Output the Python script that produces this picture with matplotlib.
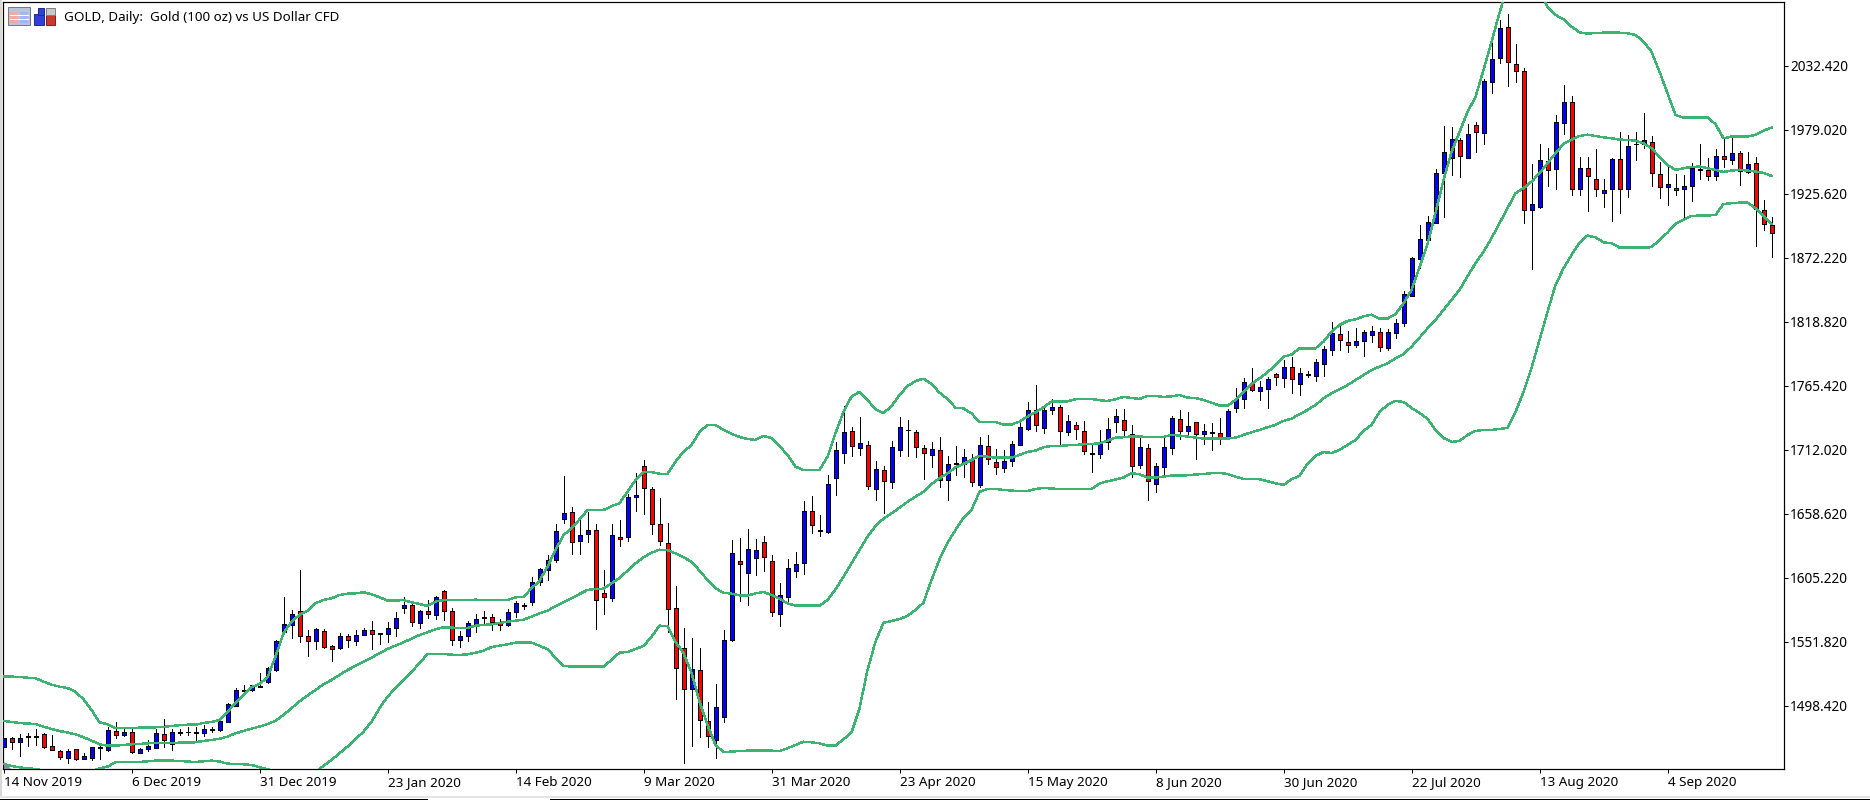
import matplotlib
matplotlib.use("Agg")
import matplotlib.pyplot as plt
from matplotlib.patches import Rectangle, Polygon
from matplotlib.lines import Line2D

W, H = 1870, 800

opens = [
1463.6,1471.1,1467.8,1472.2,1472.6,1474.7,1464.4,1460.3,1455.0,1462.0,
1454.2,1455.0,1462.8,1461.7,1477.0,1474.2,1476.1,1459.2,1462.0,1463.3,
1474.5,1466.7,1475.6,1476.1,1475.6,1475.3,1478.1,1478.1,1485.0,1498.4,
1510.9,1511.2,1514.2,1518.4,1528.4,1559.6,1565.7,1577.1,1556.2,1552.1,
1560.4,1547.9,1546.2,1556.2,1552.1,1557.6,1561.2,1558.5,1558.5,1562.9,
1579.6,1582.1,1567.1,1577.1,1573.7,1593.8,1577.1,1552.9,1556.2,1566.8,
1571.5,1572.0,1567.0,1565.7,1576.2,1581.5,1584.6,1601.8,1611.8,1620.2,
1654.4,1659.7,1635.5,1641.3,1644.6,1592.1,1587.9,1638.8,1638.8,1672.2,
1698.0,1678.8,1649.6,1633.8,1579.6,1546.2,1512.0,1527.8,1485.3,1469.4,
1488.6,1553.4,1618.8,1608.8,1621.3,1634.6,1618.8,1574.6,1588.7,1610.4,
1617.1,1660.5,1644.4,1643.0,1688.0,1708.9,1727.2,1713.6,1715.6,1678.8,
1694.7,1684.7,1711.4,1728.1,1726.4,1713.0,1707.2,1711.4,1686.3,1700.0,
1699.7,1703.9,1682.2,1714.7,1701.4,1696.4,1702.2,1715.6,1728.9,1744.8,
1729.8,1744.8,1747.3,1726.5,1732.3,1727.3,1708.4,1708.7,1718.1,1734.8,
1736.5,1724.8,1698.9,1713.1,1683.1,1697.3,1713.1,1737.3,1727.3,1734.8,
1724.8,1725.9,1725.6,1721.5,1746.5,1754.0,1767.4,1760.7,1762.4,1774.9,
1771.5,1780.7,1767.0,1774.5,1773.2,1783.2,1794.8,1808.2,1801.5,1799.0,
1802.4,1807.4,1809.9,1797.1,1809.0,1817.4,1839.9,1870.8,1886.7,1901.4,
1942.6,1955.1,1970.1,1955.1,1982.6,1976.0,2018.5,2038.5,2064.4,2033.5,
2027.7,1911.7,1914.2,1952.6,1945.9,1984.3,2001.8,1929.2,1946.8,1937.6,
1925.9,1929.2,1954.3,1929.2,1966.8,1966.8,1968.4,1941.8,1930.9,1930.1,
1929.2,1931.7,1945.6,1945.1,1940.1,1956.8,1953.4,1959.3,1943.4,1950.9,
1912.3,1899.2]

highs = [
1471.1,1472.5,1474.5,1475.9,1478.6,1475.9,1473.6,1461.4,1462.5,1462.5,
1458.6,1464.2,1464.7,1480.9,1484.8,1480.6,1478.6,1462.8,1469.5,1478.9,
1487.0,1478.9,1479.2,1480.3,1480.6,1482.0,1480.9,1487.8,1500.3,1512.8,
1515.3,1515.9,1525.4,1530.9,1553.2,1589.0,1578.2,1611.6,1561.5,1563.5,
1562.1,1548.7,1558.7,1557.9,1561.5,1562.9,1569.0,1559.3,1567.9,1576.2,
1589.3,1582.9,1577.9,1586.3,1590.2,1594.6,1579.6,1560.4,1569.0,1574.8,
1577.3,1574.8,1570.4,1579.3,1585.4,1583.7,1605.7,1612.9,1623.8,1649.9,
1690.0,1664.1,1655.5,1659.9,1649.9,1611.5,1649.9,1653.3,1675.0,1692.5,
1703.3,1680.8,1671.3,1650.5,1598.2,1562.9,1554.5,1546.2,1501.4,1516.4,
1561.5,1636.6,1638.0,1645.5,1637.4,1639.6,1623.8,1600.4,1620.4,1626.3,
1668.8,1673.0,1657.4,1690.5,1718.3,1748.4,1730.8,1739.2,1719.2,1702.5,
1698.3,1719.2,1739.2,1736.7,1728.1,1715.8,1718.3,1722.5,1706.6,1715.0,
1712.5,1708.3,1722.5,1724.2,1712.5,1711.7,1719.2,1735.3,1751.4,1765.9,
1748.4,1754.0,1749.3,1741.0,1734.8,1735.7,1715.9,1728.1,1738.2,1745.9,
1745.9,1732.3,1722.3,1716.5,1700.6,1722.3,1739.8,1745.1,1743.2,1734.8,
1733.2,1734.0,1738.2,1745.7,1763.2,1771.5,1780.2,1769.0,1772.4,1776.0,
1786.6,1789.3,1779.8,1777.3,1787.3,1798.2,1818.2,1816.5,1810.7,1813.2,
1811.5,1814.9,1813.2,1812.4,1820.7,1844.1,1872.4,1899.5,1907.0,1945.9,
1982.1,1981.2,1971.8,1983.5,1985.4,2021.0,2056.1,2070.2,2075.5,2050.5,
2030.2,1950.4,1967.1,1963.4,1991.3,2016.3,2006.8,1956.2,1955.9,1962.9,
1937.6,1955.1,1977.1,1974.6,1977.1,1992.9,1973.7,1952.0,1948.7,1942.0,
1940.9,1950.9,1967.1,1955.4,1962.9,1971.8,1974.3,1960.9,1960.4,1956.2,
1920.1,1906.2]

lows = [
1463.6,1462.2,1456.7,1465.0,1465.8,1462.8,1461.7,1454.2,1450.3,1452.8,
1454.2,1453.3,1453.9,1460.3,1471.7,1472.8,1458.6,1458.6,1460.3,1462.8,
1464.2,1461.7,1473.6,1474.2,1469.7,1473.4,1476.1,1477.5,1484.5,1497.8,
1507.6,1510.9,1514.2,1517.0,1527.6,1559.0,1555.1,1551.8,1540.1,1546.0,
1546.2,1535.9,1545.9,1547.6,1549.3,1557.1,1545.9,1550.1,1551.5,1556.8,
1576.0,1565.1,1563.5,1571.8,1570.4,1569.9,1549.3,1547.6,1552.6,1559.8,
1567.6,1561.5,1561.5,1565.1,1572.6,1578.7,1582.6,1599.0,1603.5,1618.2,
1651.0,1624.9,1624.9,1635.2,1562.3,1574.8,1586.0,1631.6,1635.5,1660.8,
1658.0,1641.3,1632.4,1560.1,1504.2,1450.8,1465.0,1472.5,1464.2,1455.0,
1484.7,1552.3,1585.7,1582.6,1607.6,1611.0,1573.4,1565.1,1583.2,1606.0,
1608.2,1642.7,1640.2,1642.7,1674.4,1701.1,1706.9,1707.8,1679.4,1670.2,
1659.4,1679.7,1706.9,1706.9,1706.1,1687.7,1697.8,1681.1,1670.2,1690.8,
1689.4,1681.9,1680.5,1700.0,1691.9,1693.6,1698.3,1715.6,1728.3,1727.8,
1726.2,1742.1,1716.8,1724.5,1720.9,1708.7,1693.7,1705.3,1712.6,1726.8,
1722.9,1689.5,1697.0,1670.3,1677.0,1692.0,1708.7,1721.2,1724.3,1704.2,
1716.8,1712.0,1717.0,1721.5,1743.2,1747.1,1760.7,1753.5,1747.1,1766.2,
1764.6,1759.6,1757.9,1772.3,1769.5,1773.7,1791.2,1795.4,1793.7,1797.9,
1790.4,1802.1,1794.3,1795.4,1805.4,1815.4,1839.9,1863.9,1885.6,1900.9,
1906.4,1941.5,1939.8,1955.1,1960.7,1967.3,2009.9,2034.9,2015.7,2019.1,
1901.4,1863.0,1913.4,1932.3,1929.8,1975.4,1924.8,1924.2,1911.4,1923.9,
1914.8,1903.1,1909.8,1923.1,1953.7,1963.4,1932.3,1922.3,1916.4,1924.8,
1906.4,1919.8,1937.6,1937.3,1937.3,1947.9,1950.1,1933.1,1943.1,1882.2,
1895.0,1873.1]

closes = [
1471.1,1468.1,1471.1,1472.8,1473.2,1464.2,1461.7,1455.3,1460.8,1454.2,
1456.1,1463.6,1463.6,1477.8,1474.2,1476.1,1460.0,1462.0,1464.4,1475.3,
1470.0,1476.1,1476.1,1476.7,1476.1,1478.6,1478.6,1485.3,1499.8,1511.2,
1511.5,1515.3,1515.1,1529.5,1552.1,1566.2,1574.6,1556.2,1552.1,1562.1,
1547.6,1545.9,1556.2,1552.9,1557.1,1561.2,1557.9,1559.0,1562.9,1571.2,
1582.1,1567.9,1577.1,1574.6,1588.8,1577.1,1552.9,1556.2,1567.1,1570.4,
1572.0,1567.9,1565.4,1576.2,1583.7,1582.1,1601.3,1612.1,1619.6,1643.8,
1658.8,1634.6,1640.5,1644.6,1586.2,1589.3,1640.5,1637.1,1672.2,1673.8,
1679.7,1649.6,1635.5,1578.7,1530.1,1512.0,1528.7,1486.1,1472.8,1497.0,
1552.9,1625.4,1616.3,1628.8,1628.0,1622.1,1576.2,1590.4,1612.9,1616.3,
1660.5,1648.8,1644.9,1683.0,1711.4,1726.4,1714.7,1717.2,1681.3,1695.5,
1685.5,1713.9,1730.6,1728.6,1713.9,1708.9,1712.2,1686.3,1699.7,1700.5,
1705.5,1684.7,1715.6,1703.9,1697.2,1702.2,1716.4,1730.6,1744.8,1732.2,
1744.8,1747.3,1727.3,1735.7,1729.0,1710.6,1709.0,1717.3,1729.0,1739.8,
1728.1,1698.1,1714.0,1685.6,1698.1,1714.0,1738.2,1727.3,1731.5,1724.8,
1727.3,1726.5,1722.3,1744.0,1754.0,1768.2,1761.5,1764.0,1770.7,1772.4,
1780.7,1770.7,1775.7,1775.1,1784.8,1795.7,1809.0,1803.2,1799.0,1802.4,
1809.9,1810.7,1797.4,1809.9,1817.4,1841.6,1871.6,1887.5,1901.7,1942.6,
1960.1,1970.9,1956.8,1975.1,1976.8,2019.3,2037.7,2063.6,2035.2,2027.7,
1911.7,1916.7,1953.4,1945.1,1985.1,2001.8,1929.2,1946.8,1940.1,1929.2,
1928.4,1954.3,1929.2,1965.1,1967.3,1970.1,1942.6,1930.9,1933.4,1928.4,
1931.7,1946.8,1946.2,1940.1,1956.8,1954.3,1959.3,1944.3,1950.1,1913.1,
1900.0,1892.5]

bb_upper = [
1522.6,1522.6,1522.3,1521.7,1521.2,1518.4,1515.9,1514.2,1513.1,1509.8,
1503.7,1494.8,1484.5,1482.8,1479.5,1479.8,1479.8,1480.0,1480.0,1480.3,
1480.6,1481.4,1482.0,1482.5,1482.5,1483.9,1484.8,1486.4,1493.4,1500.3,
1507.3,1513.7,1516.5,1522.0,1539.3,1558.7,1568.5,1574.0,1577.6,1583.8,
1586.5,1587.9,1590.7,1591.8,1592.1,1592.9,1591.3,1588.8,1586.0,1586.0,
1586.5,1584.6,1583.2,1581.5,1585.2,1586.5,1586.5,1586.5,1586.5,1586.8,
1586.5,1586.5,1586.5,1586.5,1588.7,1589.3,1596.2,1602.6,1614.3,1628.2,
1640.7,1646.3,1653.8,1661.6,1661.6,1661.6,1664.9,1667.2,1676.9,1686.6,
1693.3,1693.3,1691.9,1691.9,1701.9,1710.3,1715.8,1726.7,1732.6,1732.6,
1728.4,1725.1,1722.6,1720.9,1720.1,1723.4,1721.7,1715.0,1707.5,1697.8,
1695.0,1695.0,1695.0,1706.1,1725.6,1743.6,1756.2,1760.3,1753.4,1745.6,
1742.5,1748.4,1757.5,1765.1,1769.2,1771.2,1766.7,1759.5,1754.2,1747.0,
1746.4,1742.2,1735.3,1735.3,1735.0,1732.9,1732.9,1735.4,1739.6,1743.2,
1747.3,1752.1,1752.1,1752.3,1754.0,1754.3,1754.3,1753.2,1752.6,1754.0,
1756.0,1755.1,1754.3,1756.8,1756.8,1756.0,1756.5,1757.6,1755.4,1755.1,
1753.4,1751.2,1748.7,1748.7,1753.4,1760.4,1766.8,1771.5,1776.5,1782.7,
1789.6,1791.3,1796.5,1796.5,1796.5,1802.1,1810.4,1816.0,1819.3,1820.7,
1823.2,1824.6,1821.3,1821.3,1825.2,1834.1,1845.2,1864.1,1883.6,1909.5,
1937.0,1960.4,1977.1,1993.7,2006.3,2028.8,2052.2,2076.4,2098.0,2112.2,
2116.4,2112.2,2095.5,2081.6,2074.7,2071.1,2065.0,2060.2,2059.1,2059.7,
2059.9,2059.9,2059.9,2059.4,2058.0,2052.4,2044.1,2027.4,2009.3,1991.3,
1989.0,1989.0,1989.0,1989.3,1983.5,1971.8,1973.2,1973.2,1973.2,1974.6,
1978.2,1980.7]

bb_middle = [
1485.6,1484.8,1483.9,1483.4,1483.1,1480.9,1478.9,1477.2,1475.9,1474.5,
1472.0,1469.2,1466.1,1465.0,1465.0,1465.6,1466.1,1466.4,1466.9,1467.2,
1467.2,1467.2,1467.5,1467.5,1467.8,1468.9,1469.7,1470.8,1472.5,1475.3,
1477.2,1479.2,1480.9,1483.1,1485.6,1490.6,1496.2,1502.0,1506.7,1511.5,
1516.2,1519.8,1524.0,1528.1,1531.5,1535.1,1538.4,1542.0,1545.7,1548.4,
1551.2,1554.3,1557.3,1559.6,1562.1,1563.7,1563.5,1563.2,1563.2,1565.1,
1565.7,1566.2,1567.3,1568.4,1569.3,1570.1,1572.6,1575.4,1577.6,1581.5,
1584.6,1587.9,1591.5,1594.9,1595.7,1596.0,1600.4,1604.9,1611.0,1617.1,
1622.1,1626.0,1628.5,1628.2,1625.4,1622.1,1618.5,1611.0,1603.2,1596.2,
1592.6,1591.8,1590.4,1590.1,1592.1,1593.2,1590.7,1587.6,1583.7,1581.8,
1581.8,1581.8,1581.8,1586.5,1595.4,1606.0,1617.1,1628.2,1639.4,1648.3,
1654.4,1658.8,1663.5,1668.5,1672.7,1676.9,1683.3,1688.0,1692.2,1697.2,
1700.0,1703.3,1706.7,1706.1,1705.3,1705.3,1705.3,1707.6,1710.1,1711.2,
1714.0,1715.1,1715.1,1715.6,1715.9,1716.5,1716.7,1717.3,1719.5,1722.0,
1722.3,1723.1,1722.9,1722.6,1722.6,1722.6,1724.3,1723.7,1722.9,1722.0,
1721.2,1721.2,1721.2,1721.2,1722.0,1724.3,1726.5,1728.4,1730.7,1732.6,
1735.9,1737.9,1741.4,1745.1,1749.2,1754.8,1759.0,1762.3,1765.9,1770.1,
1774.3,1778.4,1781.2,1784.0,1788.2,1791.8,1797.9,1805.4,1813.2,1820.2,
1828.5,1836.8,1845.2,1856.7,1867.5,1877.2,1888.4,1900.9,1913.4,1925.9,
1930.1,1935.6,1942.6,1950.9,1959.3,1967.1,1970.4,1973.7,1974.8,1973.7,
1972.6,1971.8,1970.7,1970.4,1969.8,1967.6,1963.4,1956.5,1949.5,1945.4,
1946.8,1947.9,1948.2,1946.8,1945.4,1943.7,1944.8,1945.6,1944.8,1944.0,
1942.9,1940.4]

bb_lower = [
1449.7,1448.0,1446.9,1446.1,1445.5,1444.2,1442.8,1441.9,1441.1,1440.5,
1441.9,1443.6,1446.1,1447.5,1451.1,1451.1,1451.4,1451.4,1451.9,1452.5,
1452.5,1452.5,1452.2,1451.7,1451.4,1451.9,1452.5,1451.7,1450.0,1449.7,
1449.4,1448.9,1446.9,1445.3,1443.3,1441.4,1439.7,1438.6,1439.7,1443.3,
1448.0,1453.1,1458.6,1464.2,1470.3,1476.7,1485.0,1496.2,1505.9,1512.8,
1519.8,1526.7,1533.7,1541.5,1541.5,1541.5,1540.9,1540.7,1541.2,1542.6,
1544.0,1547.3,1548.4,1549.5,1550.9,1551.2,1550.9,1548.4,1545.4,1538.4,
1531.7,1530.9,1530.9,1530.9,1530.9,1530.9,1536.5,1542.6,1543.1,1545.6,
1548.1,1555.9,1565.1,1564.8,1551.8,1542.0,1525.9,1501.7,1482.2,1465.5,
1459.7,1460.0,1460.5,1460.8,1461.1,1460.8,1460.8,1460.5,1462.8,1465.5,
1468.3,1467.8,1466.9,1465.0,1465.0,1470.3,1476.1,1496.1,1528.1,1551.8,
1567.6,1569.0,1570.7,1573.2,1578.2,1584.3,1603.2,1620.4,1634.1,1645.0,
1655.0,1661.7,1676.7,1679.2,1679.2,1678.4,1677.8,1677.5,1677.5,1679.2,
1680.0,1679.5,1679.2,1679.2,1679.2,1679.2,1679.2,1683.7,1685.6,1687.0,
1688.7,1692.3,1691.4,1688.7,1688.7,1689.5,1690.3,1690.3,1690.6,1691.2,
1691.7,1692.3,1692.6,1691.7,1689.5,1687.5,1687.5,1687.3,1685.6,1683.9,
1682.5,1687.3,1690.0,1700.0,1706.7,1710.0,1709.2,1711.7,1715.9,1720.1,
1727.6,1732.6,1743.4,1749.3,1752.6,1751.8,1746.8,1742.6,1737.6,1728.4,
1721.7,1718.4,1719.2,1724.2,1727.6,1728.4,1728.4,1729.2,1730.1,1743.4,
1760.1,1780.1,1803.5,1826.9,1849.4,1863.3,1874.5,1884.7,1890.6,1889.2,
1885.0,1884.2,1880.6,1880.6,1880.6,1880.6,1880.9,1887.0,1893.1,1900.3,
1903.6,1907.0,1907.3,1907.3,1907.8,1917.0,1917.6,1918.1,1918.1,1913.4,
1907.0,1900.3]

price_ticks = [2032.42, 1979.02, 1925.62, 1872.22, 1818.82, 1765.42,
               1712.02, 1658.62, 1605.22, 1551.82, 1498.42]
date_labels = ["14 Nov 2019", "6 Dec 2019", "31 Dec 2019", "23 Jan 2020",
               "14 Feb 2020", "9 Mar 2020", "31 Mar 2020", "23 Apr 2020",
               "15 May 2020", "8 Jun 2020", "30 Jun 2020", "22 Jul 2020",
               "13 Aug 2020", "4 Sep 2020"]
bars_per_label = 16

UP = "#0000ff"
DOWN = "#ff0000"
BAND = "#3cb371"
PX = 72 / 100  # one device pixel, in points

plt.rcParams["font.family"] = ["Noto Sans", "DejaVu Sans"]
fig = plt.figure(figsize=(W / 100, H / 100), dpi=100, facecolor="white")
plot_left, plot_right, plot_top, plot_bottom = 3.0, 1783.5, 2.0, 769.0
ax = fig.add_axes([plot_left / W, 1 - plot_bottom / H,
                   (plot_right - plot_left) / W,
                   (plot_bottom - plot_top) / H])
ax.set_xlim(-0.0625, 222.5)
ax.set_ylim(1445.5, 2085.5)

xs = list(range(len(closes)))

# Candles: wicks first, then outlined bodies
ax.vlines(xs, lows, highs, colors="black", linewidth=PX, antialiased=False, zorder=2)
bottoms = [min(o, c) for o, c in zip(opens, closes)]
heights = [abs(c - o) for o, c in zip(opens, closes)]
colors = [UP if c >= o else DOWN for o, c in zip(opens, closes)]
ax.bar(xs, heights, bottom=bottoms, width=0.5, color=colors, edgecolor="black",
       linewidth=PX, antialiased=False, zorder=3)

# Bollinger envelope on top of the candles
for band in (bb_upper, bb_middle, bb_lower):
    ax.plot(xs, band, color=BAND, linewidth=1.0, solid_joinstyle="round",
            antialiased=False, zorder=4)

# Axes frame
for side in ax.spines.values():
    side.set_linewidth(PX * 1.2)
    side.set_color("black")

ax.yaxis.tick_right()
ax.set_yticks(price_ticks)
ax.set_yticklabels([f"{p:.3f}" for p in price_ticks], fontsize=9.8, color="black")
ax.tick_params(axis="y", length=3.2, width=PX, pad=1.5)

ax.set_xticks([i * bars_per_label for i in range(len(date_labels))])
ax.set_xticklabels(date_labels, fontsize=9.7, ha="left", color="black")
ax.tick_params(axis="x", length=2.6, width=PX, pad=2.5)

# Chart header
fig.text(64 / W, 1 - 18 / H, "GOLD, Daily:  Gold (100 oz) vs US Dollar CFD",
         fontsize=9.65, va="center", ha="left", color="black")


def box(x0, y0, x1, y1, **kw):
    fig.add_artist(Rectangle((x0 / W, 1 - y1 / H), (x1 - x0) / W, (y1 - y0) / H,
                             transform=fig.transFigure, **kw))


def rule(x0, y0, x1, y1, color, lw=PX):
    fig.add_artist(Line2D([x0 / W, x1 / W], [1 - y0 / H, 1 - y1 / H], color=color,
                          linewidth=lw, transform=fig.transFigure,
                          antialiased=False))


# Window icon
box(8, 7, 30, 25, facecolor="#b8c4dc", edgecolor="#707a90", linewidth=PX)
box(10, 12, 18, 23, facecolor="#f4a8a0", edgecolor="none")
box(20, 12, 28, 23, facecolor="#a8b4f0", edgecolor="none")
for gy in (15, 19):
    rule(10, gy, 28, gy, "white")
# Buy / sell icon
box(34, 14, 44, 25, facecolor="#3040d8", edgecolor="#202c90", linewidth=PX)
box(38, 8, 44, 15, facecolor="#3040d8", edgecolor="#202c90", linewidth=PX)
box(46, 14, 55, 25, facecolor="#c83830", edgecolor="#802020", linewidth=PX)
box(46, 8, 55, 15, facecolor="#c8c8c8", edgecolor="#808080", linewidth=PX)

# Corner marker at the lower left of the plot
fig.add_artist(Polygon([(3.5 / W, 1 - 762 / H), (3.5 / W, 1 - 769 / H), (11 / W, 1 - 769 / H)],
                       closed=True, facecolor="#808a98", edgecolor="none",
                       transform=fig.transFigure))

# Window edges around the chart
box(0, 0, 2, 796, facecolor="#d8d8d8", edgecolor="none")
box(0, 796, W, 798, facecolor="#e4e4e4", edgecolor="none")
rule(0, 798.5, 427, 798.5, "black")
rule(550, 798.5, W, 798.5, "black")

fig.savefig("out.png", dpi=100, facecolor="white")
